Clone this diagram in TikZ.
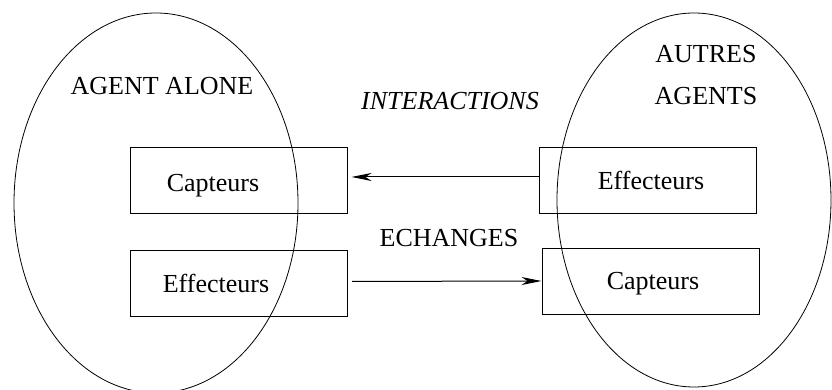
\documentclass[tikz,border=0pt]{standalone}
\usepackage{fontspec}
\setmainfont{Liberation Serif}
\usepackage{tikz}
\usetikzlibrary{arrows.meta}

\tikzset{
  boite/.style={draw,line width=0.5pt,minimum width=108.5pt,minimum height=33pt,inner sep=0pt},
  fleche/.style={-{Stealth[length=10pt,width=4pt,inset=3pt]},line width=0.5pt},
  txt/.style={font=\fontsize{13}{15}\selectfont,inner sep=0pt,anchor=base}
}

\begin{document}
\begin{tikzpicture}[x=0.5pt,y=0.5pt]
\useasboundingbox (0,0) rectangle (832,390);
\clip (0,0) rectangle (832,390);

% Agents
\draw[line width=0.4pt] (156,187) ellipse [x radius=142,y radius=190];
\draw[line width=0.4pt] (694,190) ellipse [x radius=137,y radius=187];
\node[txt] (alone) at (162,295) {AGENT ALONE};
\node[txt] (autres) at (706,327) {AUTRES};
\node[txt] (agents) at (706,285) {AGENTS};

% Boites
\node[boite] (capL) at (238.5,209) {};
\node[boite] (effL) at (239,106.5) {};
\node[boite] (effR) at (647.5,209) {};
\node[boite] (capR) at (650.5,108.5) {};
\node[txt] at (213,198) {Capteurs};
\node[txt] at (216,97) {Effecteurs};
\node[txt] at (651,200) {Effecteurs};
\node[txt] at (653,100) {Capteurs};

% Interactions
\draw[fleche,shorten >=2pt] ([yshift=2pt]effR.west) -- ([yshift=2pt]capL.east);
\draw[fleche,shorten <=2pt] ([yshift=1pt]effL.east) -- ([yshift=0.25pt]capR.west);
\node[txt,font=\fontsize{13}{15}\selectfont\itshape] (inter) at (450,280) {INTERACTIONS};
\node[txt] (echanges) at (449,143) {ECHANGES};
\end{tikzpicture}
\end{document}
